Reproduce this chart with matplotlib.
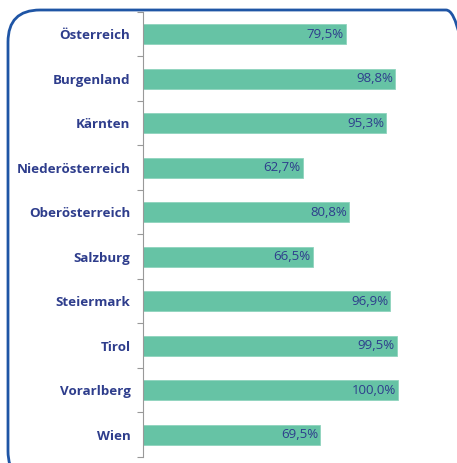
import matplotlib
matplotlib.use("Agg")
import matplotlib.pyplot as plt
from matplotlib.patches import FancyBboxPatch

# Data
regions = ["Österreich", "Burgenland", "Kärnten", "Niederösterreich", "Oberösterreich",
           "Salzburg", "Steiermark", "Tirol", "Vorarlberg", "Wien"]
shares = [79.5, 98.8, 95.3, 62.7, 80.8, 66.5, 96.9, 99.5, 100.0, 69.5]

BAR_COLOR = "#66c3a5"
TEXT_COLOR = "#2e3d8c"
FRAME_COLOR = "#1f55a5"

plt.rcParams["font.family"] = ["Open Sans", "DejaVu Sans"]

fig = plt.figure(figsize=(4.57, 4.63), dpi=100)
ax = fig.add_axes([143 / 457, 1 - 457 / 463, (440 - 143) / 457, 445 / 463])

# rounded frame around the chart (pixel coordinates)
frame = FancyBboxPatch((8, -20), 470, 463 - 10 + 20,
                       boxstyle="round,pad=0,rounding_size=32",
                       transform=None, fill=False, edgecolor=FRAME_COLOR,
                       linewidth=2.0, zorder=0)
fig.patches.append(frame)

y = list(range(len(regions)))
ax.barh(y, shares, height=0.45, color=BAR_COLOR, edgecolor="#8fd4bd", linewidth=0.6)

for yi, v in zip(y, shares):
    ax.text(v - 0.8, yi, f"{v:.1f}%".replace(".", ","), ha="right", va="center",
            fontsize=9.5, color=TEXT_COLOR)

ax.set_xlim(0, (440 - 143) / 255 * 100)
ax.set_ylim(len(regions) - 0.5, -0.5)
ax.set_yticks(y)
ax.set_yticklabels(regions, fontsize=9.6, fontweight="bold", color=TEXT_COLOR)
ax.tick_params(axis="y", which="major", length=0, pad=9)
ax.set_yticks([i - 0.5 for i in range(len(regions) + 1)], minor=True)
ax.tick_params(axis="y", which="minor", length=4, color="#999999", width=0.8)
ax.set_xticks([])

for side in ["top", "right", "bottom"]:
    ax.spines[side].set_visible(False)
ax.spines["left"].set_color("#999999")
ax.spines["left"].set_linewidth(0.8)
ax.patch.set_alpha(0)

fig.savefig("out.png", dpi=100)
